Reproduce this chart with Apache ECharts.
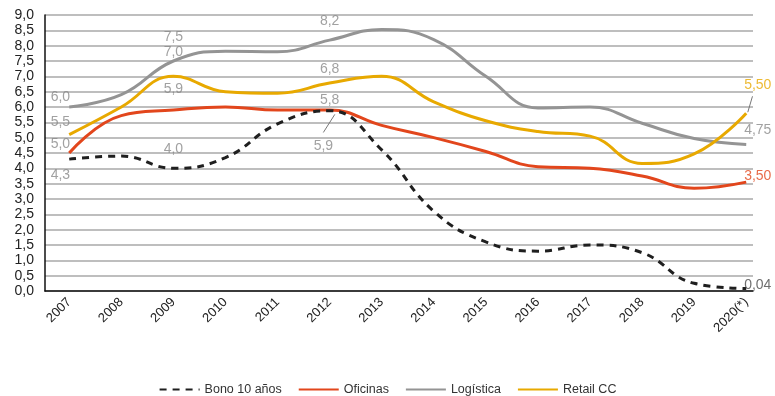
<!DOCTYPE html>
<html>
<head>
<meta charset="utf-8">
<script src="https://cdn.jsdelivr.net/npm/echarts@6/dist/echarts.min.js"></script>
<style>html,body{margin:0;padding:0;background:#fff}#c{width:775px;height:396px}</style>
</head>
<body>
<div id="c"></div>
<script>
var categories = ['2007','2008','2009','2010','2011','2012','2013','2014','2015','2016','2017','2018','2019','2020(*)'];
var bono = [4.3, 4.4, 4.0, 4.35, 5.45, 5.88, 4.6, 2.6, 1.6, 1.3, 1.5, 1.25, 0.25, 0.08];
var oficinas = [4.5, 5.72, 5.9, 6.0, 5.9, 5.9, 5.4, 5.0, 4.55, 4.05, 4.0, 3.75, 3.35, 3.55];
var logistica = [6.0, 6.4, 7.5, 7.82, 7.8, 8.18, 8.53, 8.2, 7.0, 5.97, 6.0, 5.47, 4.97, 4.78];
var retail = [5.1, 6.0, 7.0, 6.5, 6.45, 6.78, 7.0, 6.17, 5.55, 5.2, 5.05, 4.16, 4.47, 5.8];
var yTicks = [0,0.5,1,1.5,2,2.5,3,3.5,4,4.5,5,5.5,6,6.5,7,7.5,8,8.5,9];
// annotation texts with their category-index / value anchor
var annoText = ['6,0','5,5','5,0','4,3','7,5','7,0','5,9','4,0','8,2','6,8','5,8','5,9','5,50','4,75','3,50','0,04'];
var annoX = [-0.17,-0.17,-0.17,-0.17,2,2,2,2,5,5,5,4.88,12.96,12.96,12.96,12.96];
var annoY = [6.33,5.51,4.79,3.78,8.28,7.79,6.59,4.63,8.80,7.24,6.23,4.73,6.72,5.25,3.75,0.20];
var annoKind = ['g','g','g','g','g','g','g','g','g','g','g','g','y','g','r','k'];
var leaders = [[[4.88,5.17],[5.1,5.76]],[[13.03,5.83],[13.12,6.35]]];

var colors = {bono:'#1f1f1f', of:'#E2461C', lo:'#949494', re:'#E8A900'};
var annoColors = {g:'#8a8a8a', y:colors.re, r:colors.of, k:'#4a4a4a'};

function pairs(arr){ return arr.map(function(v,i){ return [i, v]; }); }

var chart = echarts.init(document.getElementById('c'));
var lineCommon = {type:'line', smooth:0.45, symbol:'none', showSymbol:false};
chart.setOption({
  animation:false,
  textStyle:{fontFamily:'Liberation Sans, Arial, sans-serif'},
  grid:{left:45, right:22, top:15, bottom:105, containLabel:false},
  xAxis:{
    type:'value', min:-0.465, max:13.13,
    axisLine:{show:true, onZero:false, lineStyle:{color:'#111', width:1.5}},
    axisTick:{show:false},
    splitLine:{show:false},
    axisLabel:{customValues:categories.map(function(c,i){return i;}), rotate:45, margin:9,
      fontSize:13, color:'#222', formatter:function(v){ return categories[Math.round(v)]; }}
  },
  yAxis:{
    type:'value', min:0, max:9, interval:0.5,
    axisLine:{show:true, onZero:false, lineStyle:{color:'#111', width:1.5}},
    axisTick:{show:false},
    splitLine:{show:true, lineStyle:{color:'#a8a8a8', width:1.5}},
    axisLabel:{fontSize:14, color:'#222', margin:11, formatter:function(v){ return v.toFixed(1).replace('.', ','); }}
  },
  legend:{
    top:378, left:'center', itemWidth:40, itemHeight:12, itemGap:16,
    textStyle:{fontSize:12.5, color:'#333'},
    itemStyle:{opacity:0},
    data:['Bono 10 años','Oficinas','Logística','Retail CC']
  },
  series:[
    Object.assign({}, lineCommon, {name:'Bono 10 años', data:pairs(bono), z:5,
      lineStyle:{color:colors.bono, width:3, type:[7,6]}, itemStyle:{color:colors.bono}}),
    Object.assign({}, lineCommon, {name:'Oficinas', data:pairs(oficinas), z:4,
      lineStyle:{color:colors.of, width:3}, itemStyle:{color:colors.of}}),
    Object.assign({}, lineCommon, {name:'Logística', data:pairs(logistica), z:3,
      lineStyle:{color:colors.lo, width:3}, itemStyle:{color:colors.lo}}),
    Object.assign({}, lineCommon, {name:'Retail CC', data:pairs(retail), z:4,
      lineStyle:{color:colors.re, width:3}, itemStyle:{color:colors.re}}),
    {
      type:'scatter', name:'anno', symbolSize:0, silent:true, z:10, clip:false,
      data:annoText.map(function(t,i){
        var left = i >= 12;
        return {value:[annoX[i], annoY[i]],
          label:{show:true, position:'inside', formatter:t, fontSize:14,
            color:annoColors[annoKind[i]], align: left ? 'left' : 'center'}};
      }),
      markLine:{silent:true, symbol:'none', label:{show:false}, clip:false,
        lineStyle:{color:'#777', width:1, type:'solid'},
        data:leaders.map(function(l){ return [{coord:l[0]},{coord:l[1]}]; })}
    }
  ]
});
</script>
</body>
</html>
